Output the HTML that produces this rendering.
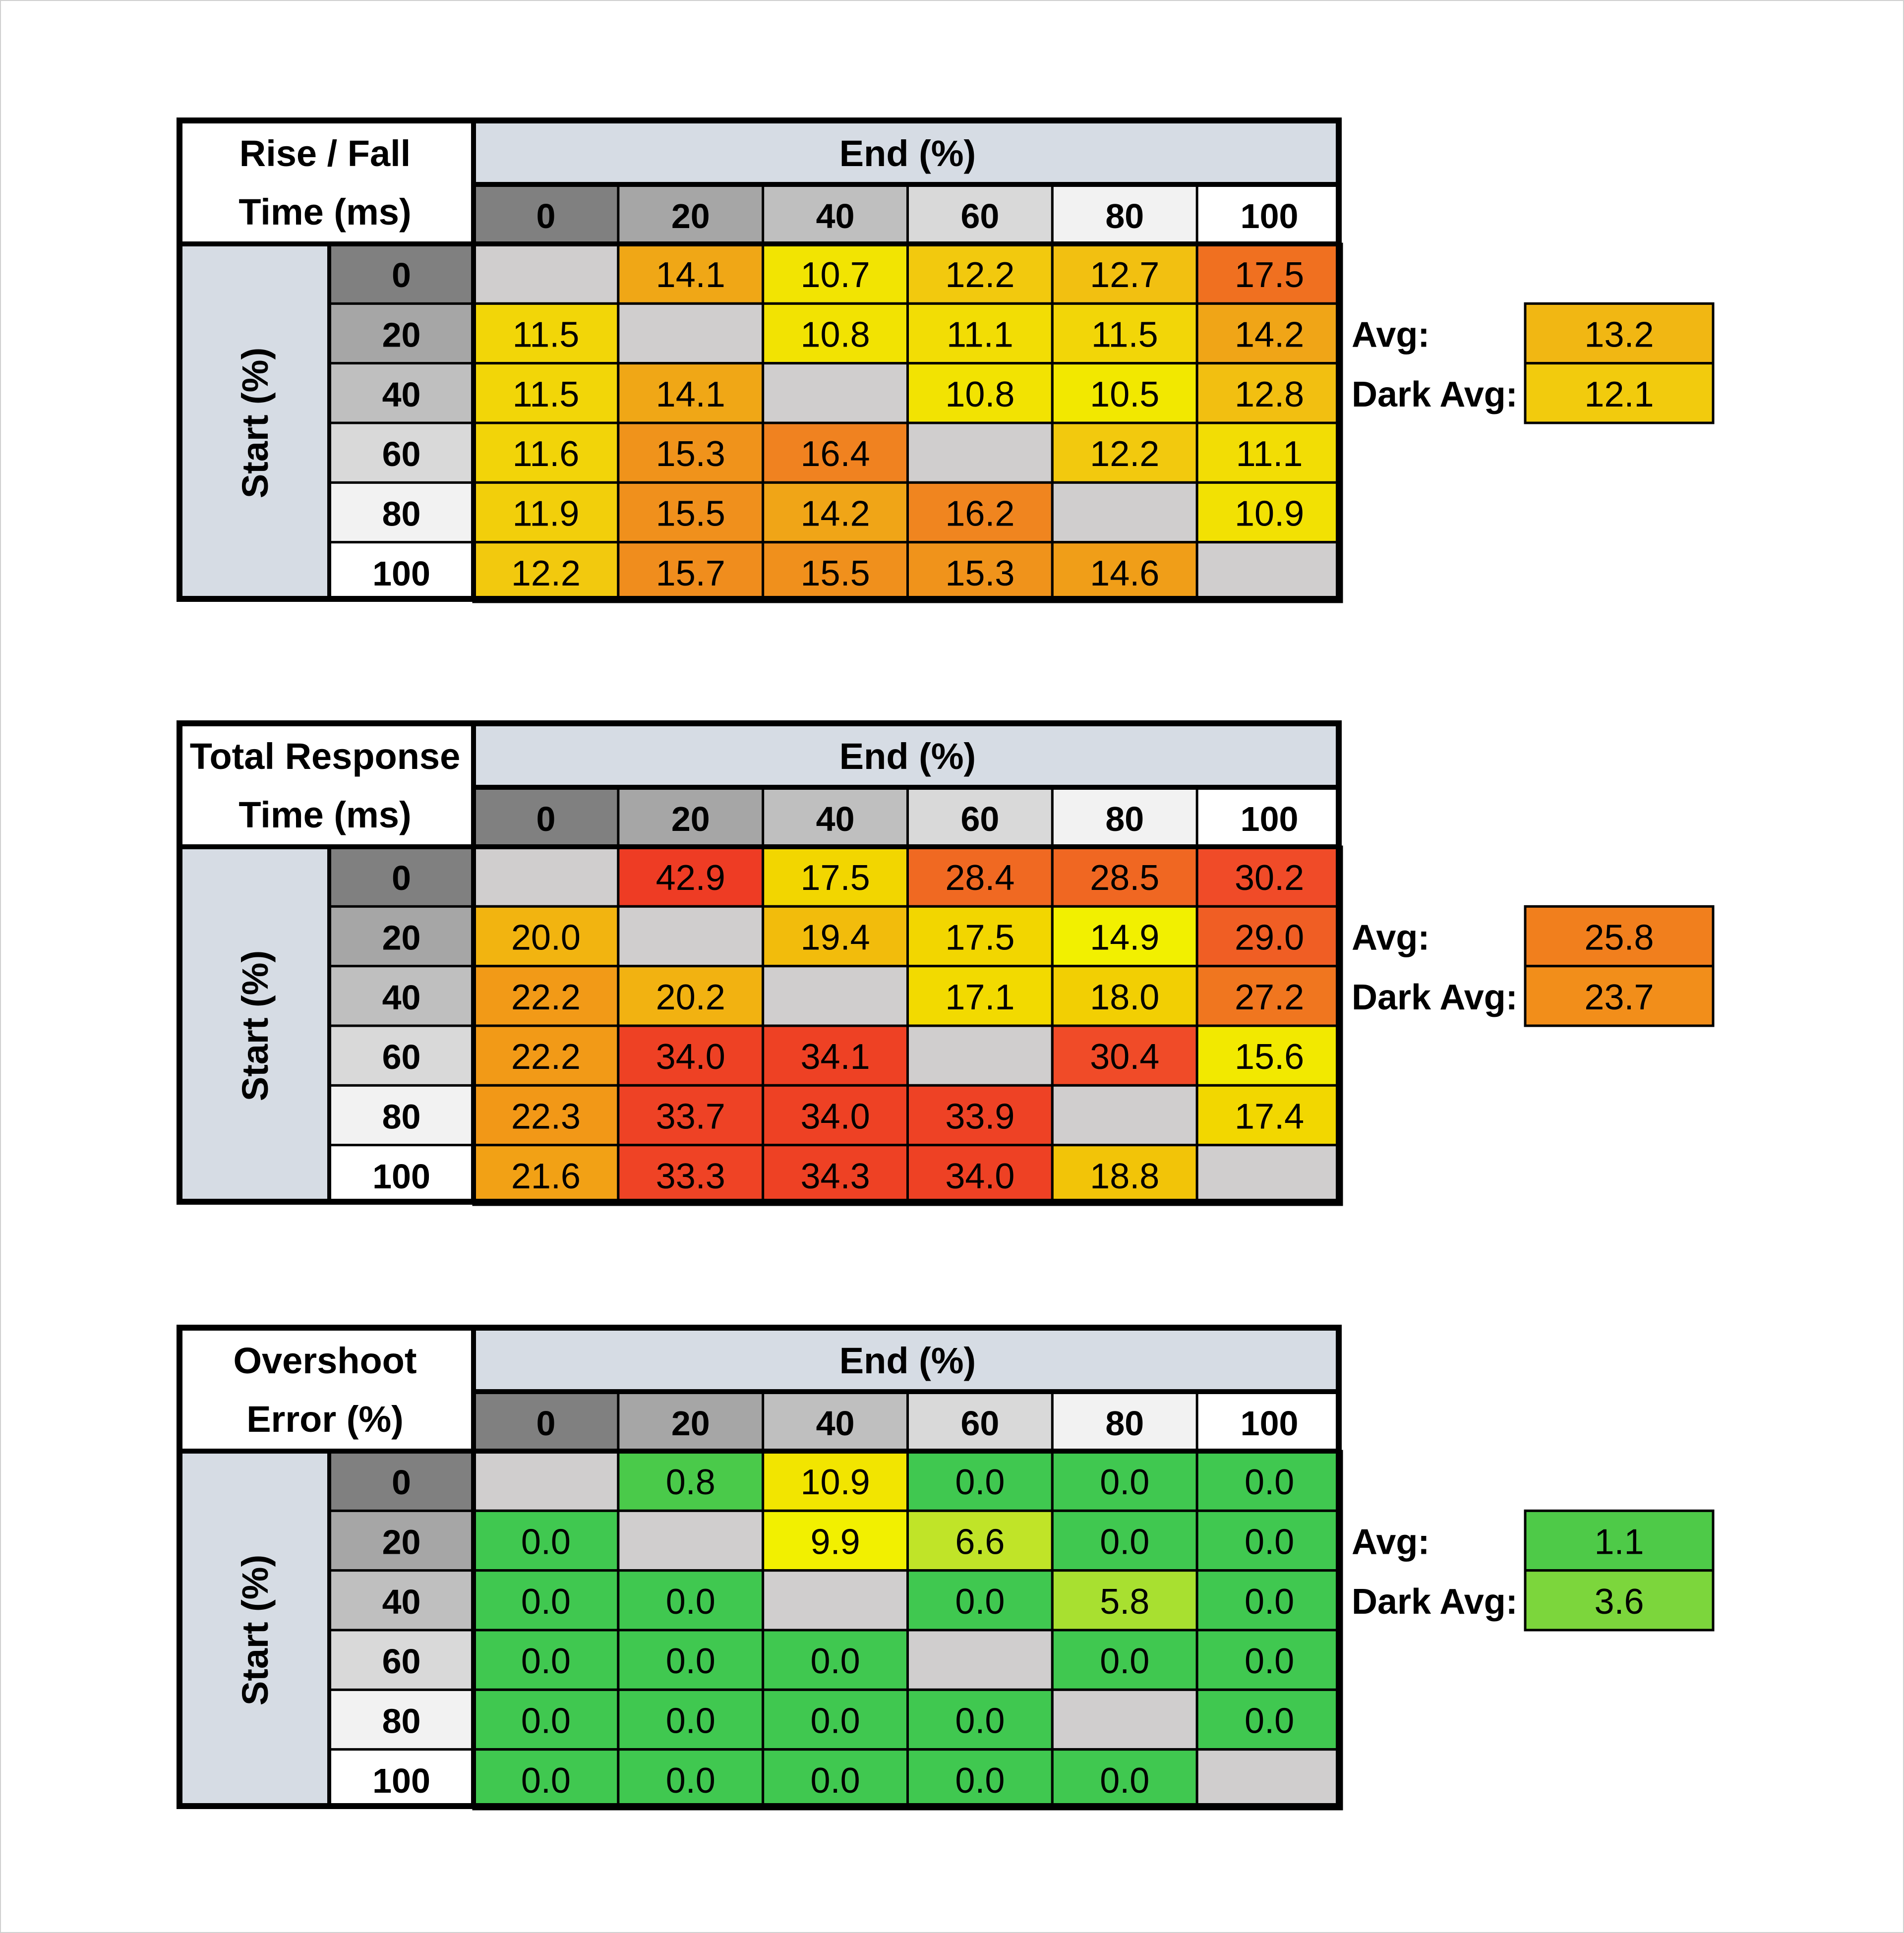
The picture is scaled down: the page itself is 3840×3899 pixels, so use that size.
<!DOCTYPE html>
<html><head><meta charset="utf-8"><style>
html,body{margin:0;padding:0;background:#fff;}
svg{display:block;}
text{font-family:"Liberation Sans Narrow","Liberation Sans",sans-serif;}
</style></head>
<body>
<svg id="chart" width="3840" height="3899" viewBox="0 0 3840 3899" xmlns="http://www.w3.org/2000/svg">
<rect x="0" y="0" width="3840" height="3899" fill="#fff" stroke="#d0d0d0" stroke-width="4"/>
</svg>
<script>
const levels = [0, 20, 40, 60, 80, 100];
const riseFallValues = [
  [null, 14.1, 10.7, 12.2, 12.7, 17.5],
  [11.5, null, 10.8, 11.1, 11.5, 14.2],
  [11.5, 14.1, null, 10.8, 10.5, 12.8],
  [11.6, 15.3, 16.4, null, 12.2, 11.1],
  [11.9, 15.5, 14.2, 16.2, null, 10.9],
  [12.2, 15.7, 15.5, 15.3, 14.6, null]
];
const riseFallAvg = [13.2, 12.1];
const totalValues = [
  [null, 42.9, 17.5, 28.4, 28.5, 30.2],
  [20.0, null, 19.4, 17.5, 14.9, 29.0],
  [22.2, 20.2, null, 17.1, 18.0, 27.2],
  [22.2, 34.0, 34.1, null, 30.4, 15.6],
  [22.3, 33.7, 34.0, 33.9, null, 17.4],
  [21.6, 33.3, 34.3, 34.0, 18.8, null]
];
const totalAvg = [25.8, 23.7];
const overshootValues = [
  [null, 0.8, 10.9, 0.0, 0.0, 0.0],
  [0.0, null, 9.9, 6.6, 0.0, 0.0],
  [0.0, 0.0, null, 0.0, 5.8, 0.0],
  [0.0, 0.0, 0.0, null, 0.0, 0.0],
  [0.0, 0.0, 0.0, 0.0, null, 0.0],
  [0.0, 0.0, 0.0, 0.0, 0.0, null]
];
const overshootAvg = [1.1, 3.6];
const avgLabels = ["Avg:", "Dark Avg:"];

const NS = "http://www.w3.org/2000/svg";
const svg = document.getElementById("chart");
const headerGrays = ["#808080", "#a6a6a6", "#bfbfbf", "#d9d9d9", "#f2f2f2", "#ffffff"];

function rgb(c) { return "rgb(" + c.join(",") + ")"; }
function lerpColor(stops, v) {
  if (v <= stops[0][0]) return rgb(stops[0][1]);
  for (let i = 1; i < stops.length; i++) {
    if (v <= stops[i][0]) {
      const [v0, c0] = stops[i - 1], [v1, c1] = stops[i];
      const t = (v - v0) / (v1 - v0);
      return rgb(c0.map((x, k) => Math.round(x + (c1[k] - x) * t)));
    }
  }
  return rgb(stops[stops.length - 1][1]);
}

const riseStops = [[10.5, [242, 232, 0]], [12.5, [242, 196, 16]], [14.5, [240, 160, 24]], [16.5, [240, 128, 32]], [17.5, [240, 112, 32]]];
const totalStops = [[14.9, [242, 240, 0]], [17.5, [242, 214, 0]], [20, [242, 180, 16]], [22.5, [242, 150, 24]], [28, [240, 112, 32]], [30, [240, 76, 40]], [34.5, [238, 64, 36]], [43, [238, 60, 36]]];
const overStops = [[0, [64, 200, 80]], [1, [76, 202, 72]], [3.6, [124, 214, 60]], [5.8, [168, 224, 48]], [6.6, [192, 228, 40]], [9.9, [242, 240, 0]], [11, [242, 228, 0]]];

function el(tag, attrs, parent) {
  const e = document.createElementNS(NS, tag);
  for (const k in attrs) e.setAttribute(k, attrs[k]);
  (parent || svg).appendChild(e);
  return e;
}

const X0 = 356, XS = 664, XD = 955, X1 = 2706;
const colW = (X1 - XD) / 6;
const colX = i => XD + i * colW;
const AVX0 = 3076, AVX1 = 3455;

function drawTable(top, title1, title2, values, avgs, stops, key) {
  const g = el("g", {});
  
  
  const yEnd = top + 135, yHdr = top + 255;
  const rowH = (top + 977 - yHdr) / 6;
  const rowY = i => yHdr + i * rowH;
  const bottom = top + 977;
  el("rect", {x: X0, y: top, width: XD - X0, height: yHdr - top, fill: "#fff"}, g);
  let t = el("text", {x: (X0 + XD) / 2, y: top + 98, "text-anchor": "middle", "font-size": 74, "font-weight": "bold"}, g);
  t.textContent = title1;
  
  
  t = el("text", {x: (X0 + XD) / 2, y: top + 216, "text-anchor": "middle", "font-size": 74, "font-weight": "bold"}, g);
  t.textContent = title2;
  
  
  el("rect", {x: XD, y: top, width: X1 - XD, height: yEnd - top, fill: "#d6dce4"}, g);
  t = el("text", {x: (XD + X1) / 2, y: top + 98, "text-anchor": "middle", "font-size": 74, "font-weight": "bold"}, g);
  t.textContent = "End (%)";
  
  
  el("rect", {x: X0, y: yHdr, width: XS - X0, height: bottom - yHdr, fill: "#d6dce4"}, g);
  const cy = (yHdr + bottom) / 2;
  t = el("text", {x: 0, y: 0, "text-anchor": "middle", "font-size": 74, "font-weight": "bold", transform: "translate(540," + cy + ") rotate(-90)"}, g);
  t.textContent = "Start (%)";
  
  
  levels.forEach((lv, i) => {
    el("rect", {x: colX(i), y: yEnd, width: colW, height: yHdr - yEnd, fill: headerGrays[i]}, g);
    const tt = el("text", {x: colX(i) + colW / 2, y: yEnd + 88, "text-anchor": "middle", "font-size": 70, "font-weight": "bold"}, g);
    tt.textContent = lv;
    
    
    el("rect", {x: XS, y: rowY(i), width: XD - XS, height: rowH, fill: headerGrays[i]}, g);
    const rt = el("text", {x: (XS + XD) / 2, y: rowY(i) + rowH / 2 + 27, "text-anchor": "middle", "font-size": 70, "font-weight": "bold"}, g);
    rt.textContent = lv;
    
    
  });
  values.forEach((row, r) => {
    row.forEach((v, c) => {
      const fill = v === null ? "#d0cece" : lerpColor(stops, v);
      const cell = el("rect", {x: colX(c), y: rowY(r), width: colW, height: rowH, fill: fill, stroke: "#000", "stroke-width": 5}, g);
      
      
      if (v !== null) {
        const vt = el("text", {x: colX(c) + colW / 2, y: rowY(r) + rowH / 2 + 27, "text-anchor": "middle", "font-size": 72}, g);
        vt.textContent = v.toFixed(1);
        
        
      }
    });
  });
  for (let i = 1; i < 6; i++) {
    el("line", {x1: colX(i), y1: yEnd, x2: colX(i), y2: yHdr, stroke: "#000", "stroke-width": 5}, g);
    el("line", {x1: XS, y1: rowY(i), x2: XD, y2: rowY(i), stroke: "#000", "stroke-width": 5}, g);
  }
  el("line", {x1: XD, y1: yEnd, x2: X1, y2: yEnd, stroke: "#000", "stroke-width": 10}, g);
  el("line", {x1: X0, y1: yHdr, x2: X1, y2: yHdr, stroke: "#000", "stroke-width": 10}, g);
  el("line", {x1: XD, y1: top, x2: XD, y2: bottom, stroke: "#000", "stroke-width": 10}, g);
  el("line", {x1: XS, y1: yHdr, x2: XS, y2: bottom, stroke: "#000", "stroke-width": 8}, g);
  el("rect", {x: X0 + 6, y: top + 6, width: X1 - X0 - 12, height: bottom - top - 12, fill: "none", stroke: "#000", "stroke-width": 12}, g);
  avgs.forEach((a, i) => {
    const y = rowY(i + 1);
    const lt = el("text", {x: 2726, y: y + rowH / 2 + 27, "font-size": 72, "font-weight": "bold"}, g);
    lt.textContent = avgLabels[i];
    
    
    const br = el("rect", {x: AVX0, y: y, width: AVX1 - AVX0, height: rowH, fill: lerpColor(stops, a), stroke: "#000", "stroke-width": 5}, g);
    
    
    const at = el("text", {x: (AVX0 + AVX1) / 2, y: y + rowH / 2 + 27, "text-anchor": "middle", "font-size": 72}, g);
    at.textContent = a.toFixed(1);
    
    
  });
}

drawTable(237, "Rise / Fall", "Time (ms)", riseFallValues, riseFallAvg, riseStops, "rise-fall");
drawTable(1453, "Total Response", "Time (ms)", totalValues, totalAvg, totalStops, "total-response");
drawTable(2672, "Overshoot", "Error (%)", overshootValues, overshootAvg, overStops, "overshoot");
</script>
</body></html>
